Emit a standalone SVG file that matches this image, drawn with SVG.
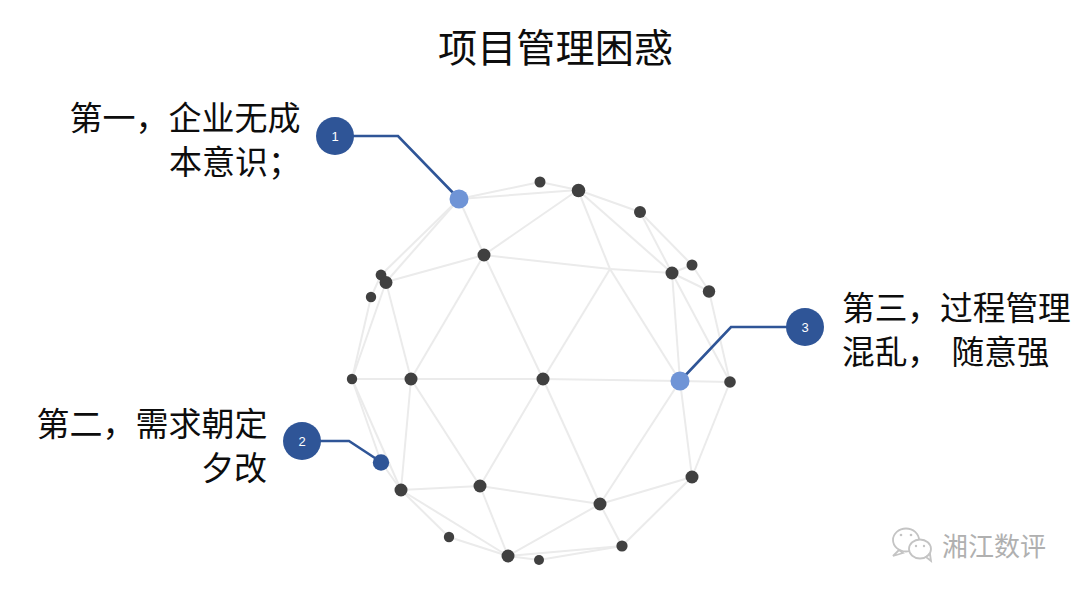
<svg xmlns="http://www.w3.org/2000/svg" width="1080" height="594" viewBox="0 0 1080 594">
<style>
text{font-family:"Noto Sans CJK SC","Noto Sans",sans-serif;fill:#0d0d0d}
.t{font-size:39.2px}
.l{font-size:32.700px}
.m{font-size:33px}
.n{font-size:13px;fill:#fff;text-anchor:middle;font-family:"Liberation Sans",sans-serif}
.e line{stroke:#ebebeb;stroke-width:2}
.c{fill:none;stroke:#2f5597;stroke-width:2.6}
.d{fill:#404040}
.h{fill:#6f94d6}
.b{fill:#2f5597}
.w{font-size:26px;fill:#b0b0b0}
.i{fill:#fff;stroke:#c4c4c4;stroke-width:1.800}
.i2{fill:#c4c4c4}
</style>
<rect width="1080" height="594" fill="#fff"/>
<text class="t" x="438" y="62">项目管理困惑</text>
<g id="mesh-edges" class="e">
<line x1="459" y1="199" x2="540" y2="182"/><line x1="459" y1="199" x2="578" y2="190"/><line x1="459" y1="199" x2="484" y2="255"/><line x1="459" y1="199" x2="386" y2="282"/><line x1="459" y1="199" x2="381" y2="275"/>
<line x1="578" y1="190" x2="540" y2="182"/><line x1="578" y1="190" x2="484" y2="255"/><line x1="578" y1="190" x2="640" y2="212"/><line x1="578" y1="190" x2="672" y2="273"/><line x1="578" y1="190" x2="610" y2="269"/>
<line x1="640" y1="212" x2="672" y2="273"/><line x1="640" y1="212" x2="692" y2="265"/><line x1="692" y1="265" x2="672" y2="273"/><line x1="692" y1="265" x2="709" y2="291"/><line x1="672" y1="273" x2="709" y2="291"/>
<line x1="672" y1="273" x2="610" y2="269"/><line x1="484" y1="255" x2="610" y2="269"/><line x1="610" y1="269" x2="543" y2="379"/><line x1="610" y1="269" x2="680" y2="381"/>
<line x1="672" y1="273" x2="680" y2="381"/><line x1="672" y1="273" x2="730" y2="382"/><line x1="709" y1="291" x2="730" y2="382"/><line x1="680" y1="381" x2="730" y2="382"/>
<line x1="680" y1="381" x2="543" y2="379"/><line x1="543" y1="379" x2="411" y2="379"/><line x1="411" y1="379" x2="352" y2="379"/><line x1="411" y1="379" x2="386" y2="282"/><line x1="411" y1="379" x2="484" y2="255"/><line x1="484" y1="255" x2="543" y2="379"/><line x1="484" y1="255" x2="386" y2="282"/>
<line x1="386" y1="282" x2="352" y2="379"/><line x1="371" y1="297" x2="352" y2="379"/><line x1="381" y1="275" x2="371" y2="297"/>
<line x1="352" y1="379" x2="381" y2="462"/><line x1="352" y1="379" x2="401" y2="490"/><line x1="381" y1="462" x2="401" y2="490"/>
<line x1="411" y1="379" x2="401" y2="490"/><line x1="411" y1="379" x2="480" y2="486"/><line x1="543" y1="379" x2="480" y2="486"/><line x1="543" y1="379" x2="600" y2="504"/>
<line x1="680" y1="381" x2="600" y2="504"/><line x1="680" y1="381" x2="692" y2="477"/><line x1="730" y1="382" x2="692" y2="477"/><line x1="600" y1="504" x2="692" y2="477"/>
<line x1="600" y1="504" x2="622" y2="546"/><line x1="692" y1="477" x2="622" y2="546"/><line x1="600" y1="504" x2="508" y2="556"/><line x1="480" y1="486" x2="600" y2="504"/>
<line x1="480" y1="486" x2="401" y2="490"/><line x1="480" y1="486" x2="508" y2="556"/><line x1="401" y1="490" x2="508" y2="556"/><line x1="401" y1="490" x2="449" y2="537"/><line x1="449" y1="537" x2="508" y2="556"/>
<line x1="508" y1="556" x2="622" y2="546"/><line x1="508" y1="556" x2="539" y2="560"/><line x1="539" y1="560" x2="622" y2="546"/>
</g>
<g id="connectors">
<path class="c" d="M335 136H398L459 199"/>
<path class="c" d="M302 441H349L381 462"/>
<path class="c" d="M805 327H731L680 381"/>
</g>
<g id="mesh-nodes">
<circle class="d" cx="540" cy="182" r="5.5"/><circle class="d" cx="578.500" cy="190.500" r="6.8"/><circle class="d" cx="640" cy="212" r="6"/><circle class="d" cx="672" cy="273" r="6.5"/><circle class="d" cx="692" cy="265" r="5.5"/><circle class="d" cx="709" cy="291.500" r="6.2"/><circle class="d" cx="730" cy="382" r="5.8"/><circle class="d" cx="692" cy="477" r="6.5"/><circle class="d" cx="622" cy="546" r="5.6"/><circle class="d" cx="600" cy="504" r="6.5"/><circle class="d" cx="539" cy="560" r="5"/><circle class="d" cx="508" cy="556" r="6.5"/><circle class="d" cx="449" cy="537" r="5.2"/><circle class="d" cx="401" cy="490" r="6.5"/><circle class="d" cx="480" cy="486" r="6.5"/><circle class="d" cx="352" cy="379" r="5.2"/><circle class="d" cx="411" cy="379" r="6.5"/><circle class="d" cx="543" cy="379" r="6.5"/><circle class="d" cx="484" cy="255" r="6.5"/><circle class="d" cx="381" cy="275" r="5.4"/><circle class="d" cx="386" cy="282.500" r="6.5"/><circle class="d" cx="371" cy="297" r="5.2"/>
</g>
<g id="point-1"><circle class="h" cx="459" cy="199" r="9.5"/></g>
<g id="point-2"><circle class="b" cx="381" cy="462.500" r="8.2"/></g>
<g id="point-3"><circle class="h" cx="680" cy="381" r="9.5"/></g>
<g id="badge-1"><circle class="b" cx="335" cy="136" r="19"/><text class="n" x="335" y="140.500">1</text></g>
<g id="badge-2"><circle class="b" cx="302" cy="441" r="19"/><text class="n" x="302" y="445.500">2</text></g>
<g id="badge-3"><circle class="b" cx="805" cy="327" r="19"/><text class="n" x="805" y="331.500">3</text></g>
<g id="label-1"><text class="m" x="69.500" y="130">第一，企业无成</text><text class="m" x="169" y="174">本意识；</text></g>
<g id="label-2"><text class="m" x="36.500" y="436">第二，需求朝定</text><text class="m" x="201" y="480">夕改</text></g>
<g id="label-3"><text class="l" x="842" y="320">第三，过程管理</text><text class="l" x="842" y="364">混乱，</text><text class="l" x="951.500" y="364">随意强</text></g>
<g id="watermark">
<ellipse class="i" cx="906" cy="540" rx="13" ry="11.500"/><path class="i" d="M899 550l-6 6 10-3z"/>
<ellipse class="i" cx="920" cy="549" rx="11" ry="9.500"/><path class="i" d="M926 557l5 4-1-7z"/>
<circle class="i2" cx="901" cy="535" r="1.300"/><circle class="i2" cx="911" cy="535" r="1.300"/><circle class="i2" cx="916" cy="546" r="1.200"/><circle class="i2" cx="924" cy="546" r="1.200"/>
<text class="w" x="942" y="556">湘江数评</text>
</g>
</svg>
